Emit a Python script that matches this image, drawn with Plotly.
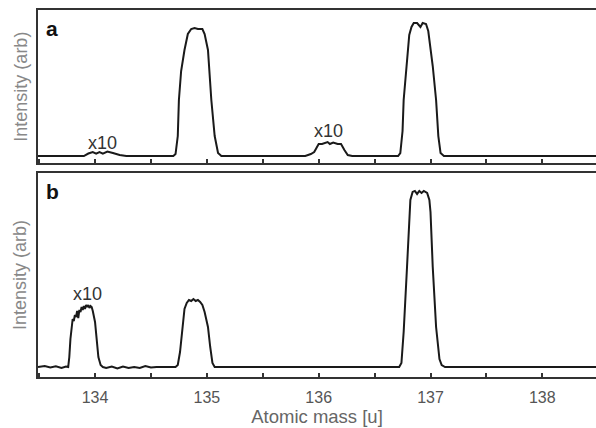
import plotly.graph_objects as go
from plotly.subplots import make_subplots

# Panel a: mass spectrum (small peaks near 134 and 136 magnified x10)
mass_a = [133.49, 133.70, 133.90, 133.94, 133.98, 134.01, 134.04, 134.07, 134.11, 134.16, 134.22, 134.28,
          134.70, 134.72, 134.74, 134.75, 134.77, 134.80, 134.83, 134.86, 134.89, 134.92, 134.96, 134.98,
          135.01, 135.04, 135.07, 135.10, 135.13, 135.50, 135.88, 135.93, 135.96, 135.98, 136.00, 136.03,
          136.06, 136.08, 136.10, 136.13, 136.17, 136.20, 136.23, 136.26, 136.30, 136.50, 136.71, 136.73,
          136.75, 136.76, 136.78, 136.80, 136.81, 136.83, 136.85, 136.88, 136.91, 136.93, 136.96, 136.98,
          137.00, 137.02, 137.05, 137.07, 137.09, 137.12, 137.50, 138.00, 138.48]
intensity_a = [0, 0, 0, 2.5, 4, 2.5, 4, 2.5, 4.5, 3, 1, 0,
               0, 2, 20, 56, 85, 106, 122, 127, 128, 127, 127, 122,
               106, 56, 20, 3, 0, 0, 0, 2, 4, 8, 12, 12,
               13, 14, 12, 13.5, 12, 12, 6, 1, 0, 0, 0, 3,
               25, 56, 85, 106, 121, 129, 133, 133, 129, 133, 132, 125,
               110, 90, 56, 20, 3, 0, 0, 0, 0]

# Panel b: mass spectrum (peak near 134 magnified x10)
mass_b = [133.49, 133.55, 133.60, 133.65, 133.70, 133.74, 133.76, 133.77, 133.78, 133.79, 133.80, 133.81,
          133.82, 133.83, 133.84, 133.85, 133.86, 133.87, 133.88, 133.89, 133.90, 133.91, 133.92, 133.93,
          133.94, 133.95, 133.96, 133.97, 133.98, 134.00, 134.02, 134.03, 134.05, 134.07, 134.10, 134.15,
          134.20, 134.25, 134.30, 134.35, 134.40, 134.45, 134.50, 134.55, 134.72, 134.74, 134.76, 134.78,
          134.80, 134.82, 134.84, 134.86, 134.88, 134.90, 134.92, 134.94, 134.96, 134.98, 135.00, 135.01,
          135.03, 135.05, 135.07, 135.50, 136.00, 136.50, 136.72, 136.74, 136.76, 136.79, 136.81, 136.82,
          136.84, 136.86, 136.88, 136.90, 136.92, 136.94, 136.97, 136.99, 137.00, 137.02, 137.05, 137.08,
          137.10, 137.13, 137.50, 138.00, 138.48]
intensity_b = [0, 1, -0.5, 0.8, -1, 0.5, 0, 10, 28, 42, 48, 46,
               52, 50, 56, 49, 57, 55, 60, 57, 61, 58, 62, 60,
               62, 59, 61, 60, 56, 45, 25, 10, 2, 0, -1, 0.5,
               -1.5, 0.5, -1, 0, -1, 1, -0.5, 0, 0, 2, 15, 40,
               58, 64, 67, 66, 68, 66, 67, 65, 62, 55, 45, 40,
               20, 4, 0, 0, 0, 0, 0, 4, 35, 100, 150, 167,
               175, 176, 173, 176, 174, 176, 174, 167, 155, 100, 40, 8,
               2, 0, 0, 0, 0]

major_ticks = [134, 135, 136, 137, 138]
x_range = [133.49, 138.48]

fig = make_subplots(rows=2, cols=1, shared_xaxes=False, vertical_spacing=0.0)

line_style = dict(color="#1a1a1a", width=2)
fig.add_trace(go.Scatter(x=mass_a, y=intensity_a, mode="lines", line=line_style, showlegend=False), row=1, col=1)
fig.add_trace(go.Scatter(x=mass_b, y=intensity_b, mode="lines", line=line_style, showlegend=False), row=2, col=1)

axis_common = dict(
    range=x_range, showline=True, mirror=True, linecolor="#333333", linewidth=2,
    showgrid=False, zeroline=False, ticks="inside", ticklen=4, tickwidth=1.5, tickcolor="#333333",
    tickvals=major_ticks,
    minor=dict(ticks="inside", dtick=0.5, tick0=133.5, ticklen=4, tickwidth=1.5, tickcolor="#333333"),
)
fig.update_layout(
    xaxis=dict(domain=[0, 1], showticklabels=False, **axis_common),
    xaxis2=dict(domain=[0, 1], showticklabels=True, ticktext=[str(t) for t in major_ticks],
                tickfont=dict(size=16, color="#555555"), ticklabelstandoff=5,
                title=dict(text="Atomic mass [u]", font=dict(size=18.5, color="#666666"), standoff=5),
                **axis_common),
    yaxis=dict(domain=[0.583, 1.0], range=[-7, 146], showline=True, linecolor="#333333", linewidth=2,
               showticklabels=False, ticks="", showgrid=False, zeroline=False),
    yaxis2=dict(domain=[0.0, 0.556], range=[-10, 194], showline=True, linecolor="#333333", linewidth=2,
                showticklabels=False, ticks="", showgrid=False, zeroline=False),
    width=596, height=428,
    margin=dict(l=38, r=0, t=10, b=51),
    plot_bgcolor="white", paper_bgcolor="white",
    font=dict(family="Liberation Sans, Arial, sans-serif"),
)

label_font = dict(size=18, color="#333333")
ytitle_font = dict(size=18, color="#888888")
annotations = [
    dict(x=134.07, y=13, xref="x", yref="y", text="x10", showarrow=False, font=label_font),
    dict(x=136.09, y=25, xref="x", yref="y", text="x10", showarrow=False, font=label_font),
    dict(x=133.93, y=73, xref="x2", yref="y2", text="x10", showarrow=False, font=label_font),
    dict(x=0.010, y=0.97, xref="x domain", yref="y domain", text="<b>a</b>", showarrow=False,
         xanchor="left", yanchor="top", font=dict(size=21, color="#111111")),
    dict(x=0.010, y=0.975, xref="x2 domain", yref="y2 domain", text="<b>b</b>", showarrow=False,
         xanchor="left", yanchor="top", font=dict(size=21, color="#111111")),
    dict(x=-0.032, y=0.5, xref="paper", yref="y domain", text="Intensity (arb)", showarrow=False,
         textangle=-90, xanchor="center", yanchor="middle", font=ytitle_font),
    dict(x=-0.032, y=0.5, xref="paper", yref="y2 domain", text="Intensity (arb)", showarrow=False,
         textangle=-90, xanchor="center", yanchor="middle", font=ytitle_font),
]
fig.update_layout(annotations=annotations)

fig.write_html("out.html")
